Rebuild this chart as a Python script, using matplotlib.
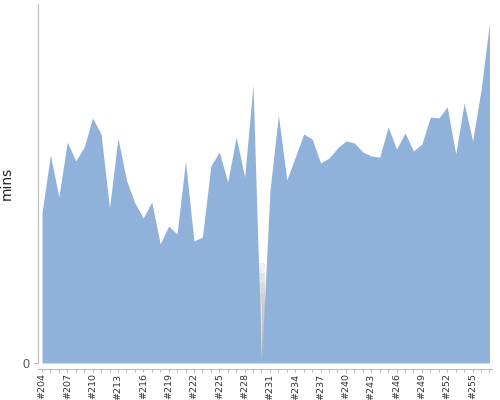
import numpy as np
import matplotlib
matplotlib.use("Agg")
import matplotlib.pyplot as plt

# build numbers and build durations (mins)
builds = list(range(204, 258))
mins = [15.0, 20.8, 16.6, 22.1, 20.2, 21.6, 24.5, 22.9, 15.5, 22.5,
        18.3, 16.0, 14.5, 16.1, 11.9, 13.7, 12.9, 20.2, 12.2, 12.6,
        19.7, 21.1, 18.1, 22.6, 18.6, 27.8, 0.0, 17.2, 24.8, 18.3,
        20.6, 22.9, 22.4, 20.0, 20.5, 21.5, 22.2, 22.0, 21.1, 20.7,
        20.6, 23.6, 21.4, 23.0, 21.2, 21.9, 24.6, 24.5, 25.6, 20.9,
        26.0, 22.2, 27.3, 34.0]
failed = [230]

x = np.arange(len(builds))

fig = plt.figure(figsize=(5, 4), dpi=100)
ax = fig.add_axes([0.076, 0.0925, 0.908, 0.8975])

# grey marker for the failed build, fading upwards
for b in failed:
    i = builds.index(b)
    for h in np.linspace(1, 10, 10):
        ax.bar(i, h, width=0.9, color="#b0b0b0", alpha=0.18, linewidth=0, zorder=1)
    ax.bar(i, 6, width=0.22, color="#ececec", alpha=0.8, linewidth=0, zorder=1)

ax.fill_between(x, mins, 0, color="#90b2da", linewidth=0, zorder=2)

ax.set_xlim(-0.47, 53.3)
ax.set_ylim(0, 35.9)

ax.set_xticks(x, minor=True)
ax.set_xticks(x[::3])
ax.set_xticklabels(["#%d" % b for b in builds[::3]], family="Liberation Sans")
ax.set_yticks([0])
ax.set_yticklabels(["0"], family="Liberation Sans")

for s in ["top", "right"]:
    ax.spines[s].set_visible(False)
ax.spines["left"].set_color("#bbbbbb")
ax.spines["bottom"].set_color("#bbbbbb")
ax.spines["bottom"].set_position(("outward", 4))
ax.tick_params(axis="x", which="both", colors="#bbbbbb", length=2.5, width=0.8,
               labelcolor="#333333", pad=1, labelsize=6.8, labelrotation=90)
ax.tick_params(axis="y", colors="#bbbbbb", length=3, labelcolor="#555555",
               pad=3, labelsize=9)

ax.set_ylabel("mins", fontsize=10, color="#222222")
ax.yaxis.set_label_coords(-0.053, 0.5)

plt.savefig("out.png")
